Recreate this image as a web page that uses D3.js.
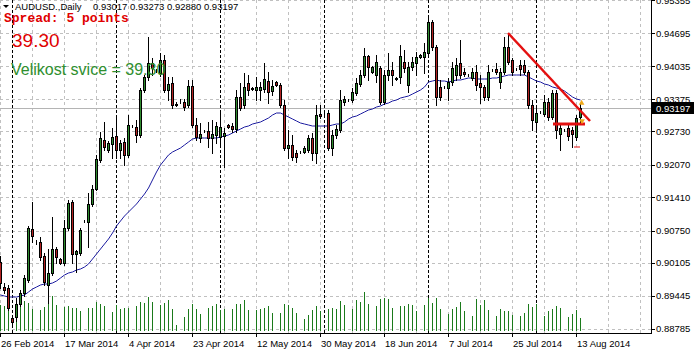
<!DOCTYPE html>
<html><head><meta charset="utf-8">
<script src="https://cdn.jsdelivr.net/npm/d3@7"></script>
<style>
html,body{margin:0;padding:0;background:#fff;}
svg{display:block;}
</style></head>
<body>
<svg id="c" width="695" height="353"></svg>
<script>
// ---------------- DATA ----------------
const symbolTitle = "AUDUSD.,Daily";
const startDate = "2014-02-26"; // first visible daily bar (Sunday bars included, Saturdays skipped)
const open = [0.9012,0.8962,0.8960,0.8900,0.8902,0.8928,0.8950,0.8976,0.9078,0.9052,
0.9052,0.9024,0.8966,0.8990,0.9038,0.9018,0.9010,0.9080,0.9132,0.9028,
0.9030,0.9094,0.9092,0.9128,0.9158,0.9216,0.9256,0.9236,0.9248,0.9264,
0.9236,0.9252,0.9226,0.9284,0.9282,0.9266,0.9356,0.9382,0.9410,0.9396,
0.9390,0.9416,0.9356,0.9370,0.9326,0.9334,0.9332,0.9326,0.9364,0.9286,
0.9260,0.9274,0.9274,0.9260,0.9266,0.9262,0.9264,0.9286,0.9284,0.9278,
0.9342,0.9326,0.9370,0.9360,0.9356,0.9356,0.9358,0.9374,0.9354,0.9372,
0.9366,0.9326,0.9240,0.9246,0.9230,0.9232,0.9232,0.9236,0.9260,0.9230,
0.9308,0.9306,0.9310,0.9240,0.9266,0.9276,0.9332,0.9336,0.9336,0.9350,
0.9368,0.9386,0.9424,0.9392,0.9386,0.9400,0.9332,0.9386,0.9396,0.9380,
0.9382,0.9412,0.9366,0.9402,0.9410,0.9422,0.9422,0.9430,0.9492,0.9442,
0.9362,0.9362,0.9360,0.9372,0.9386,0.9410,0.9392,0.9386,0.9380,0.9392,
0.9370,0.9362,0.9342,0.9396,0.9398,0.9372,0.9392,0.9442,0.9416,0.9398,
0.9406,0.9406,0.9392,0.9326,0.9292,0.9312,0.9308,0.9332,0.9302,0.9350,
0.9268,0.9276,0.9280,0.9276,0.9262,0.93017];
const high = [0.9024,0.8970,0.8966,0.8904,0.8940,0.8956,0.8986,0.9084,0.9132,0.9056,
0.9062,0.9030,0.9038,0.9102,0.9042,0.9020,0.9096,0.9136,0.9136,0.9036,
0.9080,0.9096,0.9150,0.9166,0.9226,0.9272,0.9292,0.9254,0.9280,0.9300,
0.9256,0.9260,0.9306,0.9286,0.9296,0.9360,0.9386,0.9462,0.9420,0.9398,
0.9430,0.9426,0.9382,0.9382,0.9332,0.9338,0.9338,0.9376,0.9376,0.9300,
0.9290,0.9276,0.9292,0.9296,0.9292,0.9316,0.9280,0.9288,0.9290,0.9356,
0.9370,0.9390,0.9386,0.9362,0.9382,0.9372,0.9410,0.9392,0.9376,0.9374,
0.9370,0.9336,0.9276,0.9266,0.9236,0.9234,0.9244,0.9266,0.9270,0.9326,
0.9326,0.9310,0.9316,0.9276,0.9286,0.9356,0.9344,0.9338,0.9360,0.9380,
0.9396,0.9440,0.9426,0.9404,0.9426,0.9404,0.9396,0.9430,0.9412,0.9382,
0.9446,0.9436,0.9412,0.9422,0.9432,0.9428,0.9450,0.9506,0.9496,0.9446,
0.9376,0.9364,0.9380,0.9412,0.9420,0.9456,0.9400,0.9388,0.9400,0.9406,
0.9386,0.9366,0.9406,0.9398,0.9410,0.9400,0.9462,0.9470,0.9420,0.9400,
0.9416,0.9416,0.9396,0.9336,0.9320,0.9314,0.9346,0.9340,0.9356,0.9356,
0.9286,0.9278,0.9286,0.9282,0.9306,0.93273];
const low = [0.8960,0.8950,0.8916,0.8882,0.8894,0.8924,0.8944,0.8972,0.9052,0.9048,
0.9016,0.8966,0.8930,0.8986,0.9010,0.9008,0.9006,0.9076,0.9010,0.8992,
0.9026,0.9092,0.9042,0.9124,0.9156,0.9212,0.9236,0.9232,0.9220,0.9220,
0.9220,0.9206,0.9222,0.9282,0.9252,0.9262,0.9352,0.9376,0.9386,0.9392,
0.9384,0.9352,0.9336,0.9320,0.9324,0.9330,0.9316,0.9322,0.9282,0.9256,
0.9252,0.9272,0.9242,0.9230,0.9250,0.9242,0.9202,0.9280,0.9272,0.9272,
0.9316,0.9320,0.9346,0.9356,0.9336,0.9336,0.9352,0.9330,0.9346,0.9364,
0.9322,0.9236,0.9220,0.9216,0.9212,0.9230,0.9230,0.9232,0.9216,0.9210,
0.9300,0.9302,0.9236,0.9226,0.9260,0.9272,0.9326,0.9334,0.9332,0.9346,
0.9364,0.9382,0.9376,0.9390,0.9372,0.9328,0.9328,0.9376,0.9366,0.9376,
0.9370,0.9392,0.9352,0.9396,0.9386,0.9420,0.9390,0.9426,0.9436,0.9326,
0.9336,0.9360,0.9336,0.9366,0.9376,0.9380,0.9384,0.9384,0.9376,0.9356,
0.9330,0.9336,0.9336,0.9394,0.9388,0.9360,0.9388,0.9408,0.9386,0.9396,
0.9386,0.9388,0.9320,0.9276,0.9276,0.9310,0.9304,0.9296,0.9298,0.9260,
0.9236,0.9274,0.9256,0.9242,0.9256,0.92880];
const close = [0.8970,0.8956,0.8920,0.8892,0.8928,0.8950,0.8980,0.9080,0.9064,0.9052,
0.9022,0.8972,0.8990,0.9038,0.9022,0.9010,0.9080,0.9130,0.9028,0.9034,
0.9076,0.9094,0.9128,0.9158,0.9218,0.9260,0.9242,0.9250,0.9262,0.9236,
0.9250,0.9226,0.9286,0.9284,0.9266,0.9356,0.9382,0.9410,0.9400,0.9396,
0.9416,0.9356,0.9368,0.9326,0.9328,0.9334,0.9322,0.9364,0.9286,0.9262,
0.9268,0.9274,0.9260,0.9268,0.9284,0.9282,0.9270,0.9282,0.9278,0.9342,
0.9320,0.9362,0.9356,0.9358,0.9362,0.9362,0.9378,0.9352,0.9364,0.9366,
0.9326,0.9240,0.9246,0.9222,0.9222,0.9232,0.9240,0.9260,0.9230,0.9306,
0.9304,0.9306,0.9240,0.9266,0.9278,0.9336,0.9338,0.9336,0.9352,0.9370,
0.9386,0.9424,0.9402,0.9402,0.9412,0.9332,0.9386,0.9396,0.9386,0.9378,
0.9424,0.9400,0.9402,0.9412,0.9422,0.9426,0.9432,0.9492,0.9442,0.9342,
0.9342,0.9362,0.9372,0.9400,0.9406,0.9386,0.9388,0.9386,0.9392,0.9366,
0.9362,0.9342,0.9392,0.9396,0.9392,0.9392,0.9442,0.9412,0.9392,0.9398,
0.9398,0.9392,0.9326,0.9296,0.9310,0.9312,0.9332,0.9302,0.9350,0.9276,
0.9280,0.9276,0.9264,0.9268,0.9300,0.93197];
// tick volume (thousands)
const volume = [26,25,30,0,26,27,30,28,22,0,
21,24,29,35,26,0,24,25,23,23,
20,0,23,23,29,27,25,0,19,26,
22,23,23,0,25,29,28,34,29,0,
26,28,31,22,6,0,14,22,27,22,
17,0,23,25,27,21,22,0,22,27,
27,31,21,0,21,22,23,25,18,0,
18,27,26,23,18,0,12,16,21,25,
20,0,22,23,22,30,26,0,22,31,
29,39,27,0,25,32,33,32,23,0,
25,25,27,26,20,0,26,33,28,33,
22,0,17,22,24,29,20,0,15,32,
26,31,21,0,15,22,20,20,16,0,
15,18,27,24,27,0,15,20,22,25,
23,0,14,17,21,13];
// moving average
const ma = [0.8946,0.8944,0.8942,0.8942,0.8942,0.8944,0.8946,0.8952,0.8958,0.8962,
0.8966,0.8968,0.8968,0.8970,0.8974,0.8980,0.8986,0.8990,0.8992,0.8996,
0.8998,0.9002,0.9008,0.9018,0.9028,0.9038,0.9048,0.9058,0.9070,0.9084,
0.9094,0.9104,0.9112,0.9120,0.9128,0.9138,0.9148,0.9160,0.9176,0.9192,
0.9206,0.9216,0.9226,0.9232,0.9236,0.9240,0.9246,0.9252,0.9258,0.9260,
0.9260,0.9260,0.9260,0.9260,0.9260,0.9262,0.9264,0.9266,0.9270,0.9274,
0.9278,0.9282,0.9284,0.9288,0.9290,0.9292,0.9296,0.9300,0.9306,0.9310,
0.9310,0.9306,0.9302,0.9298,0.9294,0.9290,0.9288,0.9286,0.9284,0.9284,
0.9284,0.9284,0.9284,0.9286,0.9288,0.9288,0.9292,0.9298,0.9302,0.9304,
0.9308,0.9312,0.9316,0.9318,0.9322,0.9324,0.9328,0.9330,0.9334,0.9336,
0.9340,0.9342,0.9344,0.9348,0.9352,0.9356,0.9362,0.9372,0.9374,0.9376,
0.9374,0.9374,0.9372,0.9374,0.9376,0.9376,0.9378,0.9380,0.9380,0.9378,
0.9378,0.9378,0.9378,0.9380,0.9380,0.9382,0.9384,0.9386,0.9386,0.9386,
0.9386,0.9386,0.9382,0.9378,0.9374,0.9372,0.9368,0.9366,0.9362,0.9360,
0.9358,0.9354,0.9348,0.9342,0.9338,0.9336];
const priceTicks = ["0.95355","0.94695","0.94035","0.93375","0.92730","0.92070","0.91410","0.90750","0.90105","0.89445","0.88785"];
const dateTickEvery = 16;
const spreadText = "Spread: 5 points";
const candleSizeText = "39.30";
const candleSizeLabel = "Velikost svice = 39.30";
// drawn objects (bar index, price)
const trendLine = [[127, 0.9470], [147.5, 0.9294]];
const supportLine = [[138.25, 0.9288], [146.25, 0.9288]];
const markers = [[145.4, 0.9330], [145.5, 0.9294]];
const lowDash = [[143.5, 0.9242], [145, 0.9242]];

// ---------------- BUILD ----------------
const SANS = "'Liberation Sans', Arial, sans-serif";
const MONO = "'Liberation Mono', 'Courier New', monospace";
const N = open.length;
const dates = [];
{ let d = new Date(startDate + "T00:00:00Z");
  while (dates.length < N) { if (d.getUTCDay() !== 6) dates.push(new Date(d)); d = new Date(d.getTime() + 86400000); } }
const bars = d3.range(N).map(i => ({i, date: dates[i], o: open[i], h: high[i], l: low[i], c: close[i], v: volume[i], ma: ma[i]}));

const W = 695, H = 353, plotR = 651, plotB = 333;
const x = d3.scaleLinear().domain([0, plotR / 4]).range([0, plotR]);
const y = d3.scaleLinear().domain([0.9536 - 0.0002 * plotB, 0.9536]).range([plotB, 0]);
const vy = d3.scaleLinear().domain([0, 45]).range([331, 286]);

const svg = d3.select("#c");
svg.append("rect").attr("width", W).attr("height", H).attr("fill", "#fff");
svg.append("defs").append("clipPath").attr("id", "clip").append("rect").attr("x", 0).attr("y", 0).attr("width", plotR).attr("height", plotB);
const plot = svg.append("g").attr("clip-path", "url(#clip)");
const px = v => Math.round(v);

// grid
const tickVals = priceTicks.map(Number);
plot.selectAll("line.hg").data(tickVals).join("line")
  .attr("x1", 0).attr("x2", plotR).attr("y1", d => px(y(d)) + 0.5).attr("y2", d => px(y(d)) + 0.5)
  .attr("stroke", "#c0c0c0").attr("stroke-dasharray", "3,3");
plot.selectAll("line.vg").data(d3.range(0, plotR / 4, 8)).join("line")
  .attr("x1", d => x(d) + 0.5).attr("x2", d => x(d) + 0.5).attr("y1", 0).attr("y2", plotB)
  .attr("stroke", "#c0c0c0").attr("stroke-dasharray", "3,3");

// month separators
const monthStarts = bars.filter((b, k) => k > 0 && b.date.getUTCMonth() !== bars[k - 1].date.getUTCMonth());
plot.selectAll("line.sep").data(monthStarts).join("line")
  .attr("x1", d => x(d.i) + 0.5).attr("x2", d => x(d.i) + 0.5).attr("y1", 0).attr("y2", plotB)
  .attr("stroke", "#000").attr("stroke-dasharray", "3,2");

// current price line
const last = bars[N - 1];
plot.append("line").attr("x1", 0).attr("x2", plotR).attr("y1", px(y(last.c)) + 0.5).attr("y2", px(y(last.c)) + 0.5)
  .attr("stroke", "#b4b4b4");

// volumes
plot.selectAll("line.vol").data(bars.filter(b => b.v > 0)).join("line")
  .attr("x1", d => x(d.i) + 0.5).attr("x2", d => x(d.i) + 0.5)
  .attr("y1", vy(0)).attr("y2", d => px(vy(d.v)))
  .attr("stroke", "#1b7a1b");

// moving average
plot.append("path").datum(bars).attr("fill", "none").attr("stroke", "#1c1ca0").attr("stroke-width", 1)
  .attr("d", d3.line().x(d => x(d.i) + 0.5).y(d => y(d.ma)));

// candles
const cg = plot.append("g");
cg.selectAll("line.wick").data(bars).join("line")
  .attr("x1", d => x(d.i) + 0.5).attr("x2", d => x(d.i) + 0.5)
  .attr("y1", d => px(y(d.h))).attr("y2", d => px(y(d.l)) + 1)
  .attr("stroke", "#000");
cg.selectAll("rect.body").data(bars).join("rect")
  .attr("x", d => x(d.i) - 0.5)
  .attr("y", d => px(y(Math.max(d.o, d.c))) + 0.5)
  .attr("width", 2)
  .attr("height", d => Math.max(0, px(y(Math.min(d.o, d.c))) - px(y(Math.max(d.o, d.c)))))
  .attr("fill", d => d.c >= d.o ? "#2e8b2e" : "#b22222")
  .attr("stroke", "#000");

// objects
const lineGen = d3.line().x(d => x(d[0])).y(d => y(d[1]));
plot.append("path").attr("d", lineGen(trendLine)).attr("stroke", "#e41010").attr("stroke-width", 2.5).attr("fill", "none");
plot.append("path").attr("d", lineGen(supportLine)).attr("stroke", "#e41010").attr("stroke-width", 3).attr("fill", "none");
plot.append("path").attr("d", lineGen(lowDash)).attr("stroke", "#e41010").attr("stroke-width", 1).attr("fill", "none");
plot.selectAll("path.mk").data(markers).join("path")
  .attr("transform", (d, k) => `translate(${x(d[0])},${y(d[1])}) rotate(${k === 0 ? 0 : 180})`)
  .attr("d", d3.symbol(d3.symbolTriangle, 14)).attr("fill", "#f0a818");

// axes
svg.append("line").attr("x1", plotR + 0.5).attr("x2", plotR + 0.5).attr("y1", 0).attr("y2", plotB + 1).attr("stroke", "#000");
svg.append("line").attr("x1", 0).attr("x2", plotR + 1).attr("y1", plotB + 0.5).attr("y2", plotB + 0.5).attr("stroke", "#000");

const ra = svg.append("g");
ra.selectAll("line").data(tickVals).join("line")
  .attr("x1", plotR + 1).attr("x2", plotR + 4).attr("y1", d => px(y(d)) + 0.5).attr("y2", d => px(y(d)) + 0.5).attr("stroke", "#000");
ra.selectAll("text").data(priceTicks).join("text")
  .attr("x", plotR + 5).attr("y", d => y(+d) + 3.5).style("font-family", SANS).style("font-size", "9.5px").attr("fill", "#000").text(d => d);

// current price label
const cy = px(y(last.c));
svg.append("rect").attr("x", plotR + 1).attr("y", cy - 6).attr("width", W - plotR - 2).attr("height", 12).attr("fill", "#000");
svg.append("text").attr("x", plotR + 5).attr("y", cy + 4).style("font-family", SANS).style("font-size", "9.5px").attr("fill", "#fff").text(last.c.toFixed(5));

// date axis
const fmt = d3.utcFormat("%-d %b %Y");
const dTicks = bars.filter(b => b.i % dateTickEvery === 0);
const ba = svg.append("g");
ba.selectAll("line").data(dTicks).join("line")
  .attr("x1", d => x(d.i) + 0.5).attr("x2", d => x(d.i) + 0.5).attr("y1", plotB + 1).attr("y2", plotB + 4).attr("stroke", "#000");
ba.selectAll("text").data(dTicks).join("text")
  .attr("x", d => x(d.i) + 1).attr("y", plotB + 14).style("font-family", SANS).style("font-size", "9.5px").attr("fill", "#000").text(d => fmt(d.date));

// header
svg.append("path").attr("d", "M3,5 L9,5 L6,8 Z").attr("fill", "#000");
svg.append("text").attr("x", 15).attr("y", 10).style("font-family", SANS).style("font-size", "9.5px").attr("fill", "#000").text(symbolTitle);
svg.append("text").attr("x", 93).attr("y", 10).style("font-family", SANS).style("font-size", "9.5px").attr("fill", "#000")
  .style("white-space", "pre").text([last.o, last.h, last.l, last.c].map(v => v.toFixed(5)).join(" "));
svg.append("text").attr("x", 4).attr("y", 22).style("font-family", MONO)
  .style("font-weight", "bold").style("font-size", "13px").attr("fill", "#e00000").text(spreadText);
svg.append("text").attr("x", 12).attr("y", 47).style("font-family", SANS).style("font-size", "19px").attr("fill", "#e00000").text(candleSizeText);
svg.append("text").attr("x", 11).attr("y", 75).style("font-family", SANS).style("font-size", "16px").attr("fill", "#2f8f2f").text(candleSizeLabel);
</script>
</body></html>
